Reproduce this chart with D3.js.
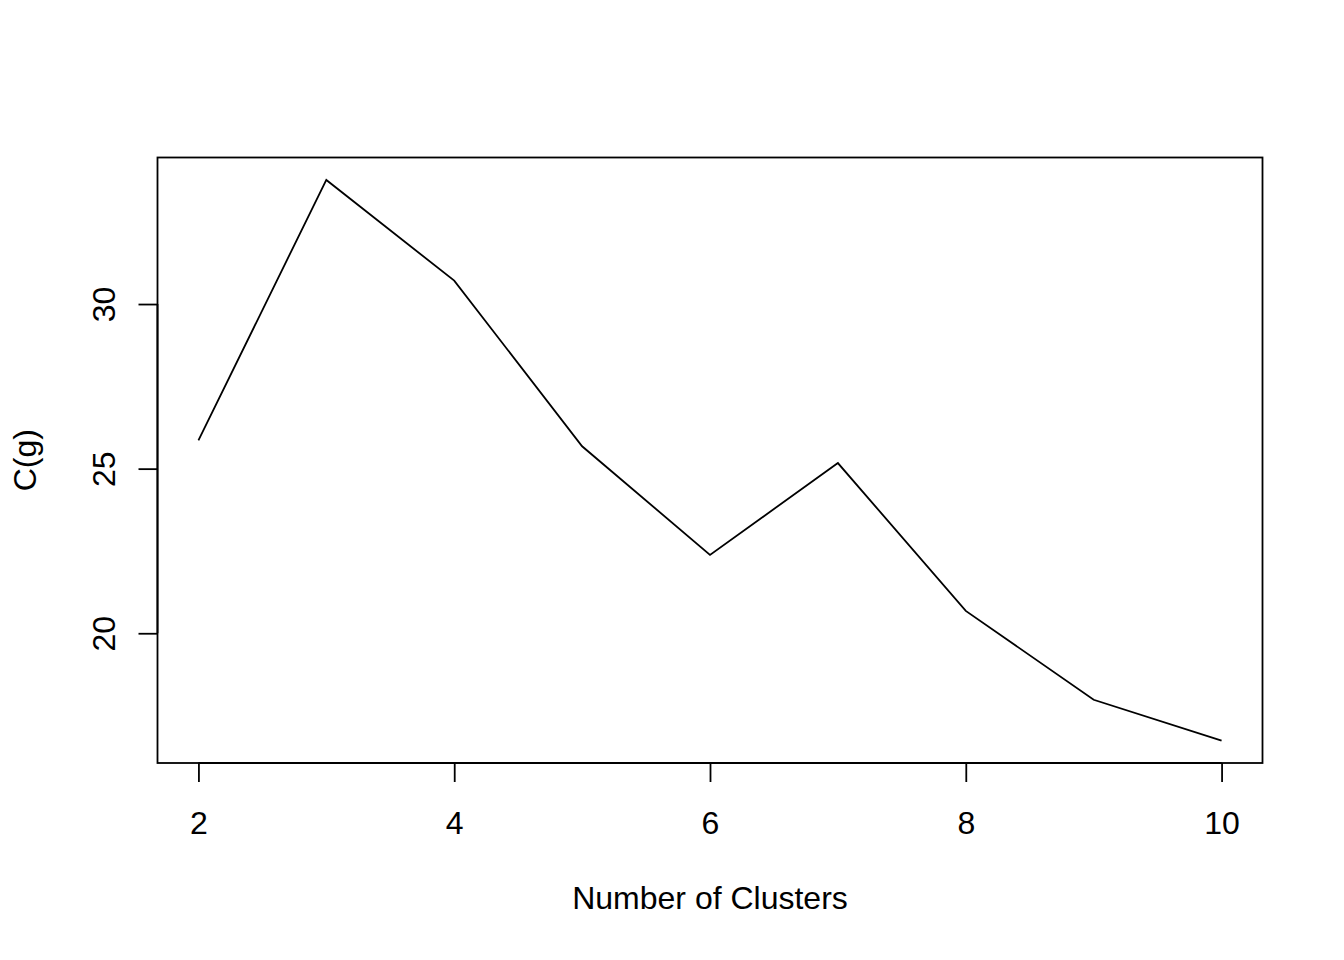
<!DOCTYPE html>
<html>
<head>
<meta charset="utf-8">
<script src="https://cdn.jsdelivr.net/npm/d3@7"></script>
<style>
  html, body { margin: 0; padding: 0; background: #fff; }
  svg text { font-family: "Liberation Sans", Arial, Helvetica, sans-serif; fill: #000; }
</style>
</head>
<body>
<svg id="chart" width="1344" height="960"></svg>
<script>
const clusters = [2, 3, 4, 5, 6, 7, 8, 9, 10];
const cg = [25.86, 33.77, 30.71, 25.68, 22.38, 25.17, 20.68, 17.98, 16.74];
const xTicks = [2, 4, 6, 8, 10];
const yTicks = [20, 25, 30];
const xLabel = "Number of Clusters";
const yLabel = "C(g)";

(function () {
const svg = d3.select("#chart");
const pL = 157.5, pR = 1262.5, pT = 157.5, pB = 763;
const FS = 32;
const SW = 1.8;

function padExt(ext) {
  const d = (ext[1] - ext[0]) * 0.04;
  return [ext[0] - d, ext[1] + d];
}
const x = d3.scaleLinear().domain(padExt(d3.extent(clusters))).range([pL, pR]);
const y = d3.scaleLinear().domain(padExt(d3.extent(cg))).range([pB, pT]);

// line
const line = d3.line().x((d, i) => x(clusters[i])).y(d => y(d));
svg.append("path")
  .datum(cg)
  .attr("d", line)
  .attr("fill", "none")
  .attr("stroke", "#000")
  .attr("stroke-width", SW)
  .attr("stroke-linejoin", "miter");

// box
svg.append("rect")
  .attr("x", pL).attr("y", pT)
  .attr("width", pR - pL).attr("height", pB - pT)
  .attr("fill", "none").attr("stroke", "#000").attr("stroke-width", SW);

// x axis
const xAxis = d3.axisBottom(x).tickValues(xTicks).tickSize(19).tickPadding(29).tickFormat(d3.format("d"));
const gx = svg.append("g").attr("transform", `translate(0,${pB})`).call(xAxis);
gx.select(".domain").attr("d", `M${x(xTicks[0])},0H${x(xTicks[xTicks.length-1])}`).attr("stroke-width", SW);
gx.selectAll(".tick line").attr("stroke-width", SW);
gx.selectAll("text").attr("font-size", FS).style("font-family", "Liberation Sans, Arial, sans-serif");

// y axis
const yAxis = d3.axisLeft(y).tickValues(yTicks).tickSize(19).tickPadding(0).tickFormat(d3.format("d"));
const gy = svg.append("g").attr("transform", `translate(${pL},0)`).call(yAxis);
gy.select(".domain").attr("d", `M0,${y(yTicks[0])}V${y(yTicks[yTicks.length-1])}`).attr("stroke-width", SW);
gy.selectAll(".tick line").attr("stroke-width", SW);
gy.selectAll(".tick text")
  .attr("x", null).attr("dy", null)
  .attr("font-size", FS)
  .style("font-family", "Liberation Sans, Arial, sans-serif")
  .attr("text-anchor", "middle")
  .attr("transform", "translate(-54,0) rotate(-90)")
  .attr("y", 0)
  .attr("dy", "0.35em");

// axis titles
svg.append("text")
  .attr("x", (pL + pR) / 2).attr("y", 909)
  .attr("text-anchor", "middle").attr("font-size", FS)
  .text(xLabel);
svg.append("text")
  .attr("transform", `translate(36,${(pT + pB) / 2}) rotate(-90)`)
  .attr("text-anchor", "middle").attr("font-size", FS)
  .text(yLabel);
})();
</script>
</body>
</html>
